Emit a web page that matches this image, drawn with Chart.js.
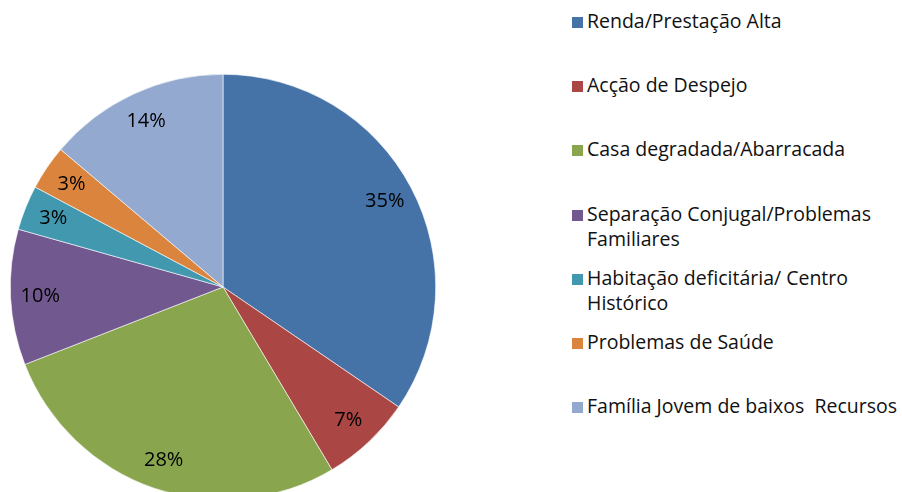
<!DOCTYPE html>
<html>
<head>
<meta charset="utf-8">
<script src="https://cdn.jsdelivr.net/npm/chart.js@4"></script>
<style>
  html, body { margin: 0; padding: 0; background: #fff; overflow: hidden; width: 902px; height: 492px; }
  #pie-box { position: absolute; left: 0; top: 0; width: 446px; height: 574px; }
  #legend { position: absolute; left: 572px; top: 0; margin: 0; padding: 0; list-style: none;
    font-family: "Open Sans", sans-serif; font-size: 19.5px; color: #111; }
  #legend li { position: absolute; left: 0; width: 340px; line-height: 25px; padding-left: 15px; white-space: nowrap; }
  #legend li span { position: absolute; left: 0; top: 9px; width: 11px; height: 11px; }
</style>
</head>
<body>
<div id="pie-box"><canvas id="pie-chart"></canvas></div>
<ul id="legend"></ul>
<script>
let categories = [
  "Renda/Prestação Alta",
  "Acção de Despejo",
  "Casa degradada/Abarracada",
  "Separação Conjugal/Problemas Familiares",
  "Habitação deficitária/ Centro Histórico",
  "Problemas de Saúde",
  "Família Jovem de baixos  Recursos",
];
let shares = [34.5, 6.9, 27.6, 10.3, 3.4, 3.4, 13.8];
let sliceColors = ["#4572A7", "#AA4643", "#89A54E", "#71588F", "#4198AF", "#DB843D", "#93A9CF"];

// legend breaks lines where Excel did
let legendLines = [
  ["Renda/Prestação Alta"],
  ["Acção de Despejo"],
  ["Casa degradada/Abarracada"],
  ["Separação Conjugal/Problemas", "Familiares"],
  ["Habitação deficitária/ Centro", "Histórico"],
  ["Problemas de Saúde"],
  ["Família Jovem de baixos\u00a0 Recursos"],
];

function buildLegend() {
  let list = document.getElementById("legend");
  categories.forEach((cat, i) => {
    let li = document.createElement("li");
    li.style.top = (8 + 64.2 * i) + "px";
    let box = document.createElement("span");
    box.style.background = sliceColors[i];
    li.appendChild(box);
    legendLines[i].forEach((line, k) => {
      if (k > 0) li.appendChild(document.createElement("br"));
      li.appendChild(document.createTextNode(line));
    });
    list.appendChild(li);
  });
}
buildLegend();

// percent labels inside the slices
const sliceLabels = {
  id: "sliceLabels",
  afterDatasetsDraw(chart) {
    let ctx = chart.ctx;
    let meta = chart.getDatasetMeta(0);
    ctx.save();
    ctx.font = "20px 'Open Sans', sans-serif";
    ctx.fillStyle = "#000";
    ctx.textAlign = "center";
    ctx.textBaseline = "middle";
    meta.data.forEach((arc, i) => {
      let p = arc.getProps(["x", "y", "startAngle", "endAngle", "outerRadius"], true);
      let mid = (p.startAngle + p.endAngle) / 2;
      let r = p.outerRadius * 0.86;
      ctx.fillText(Math.round(shares[i]) + "%", p.x + Math.cos(mid) * r, p.y + Math.sin(mid) * r);
    });
    ctx.restore();
  },
};

const ctx = document.getElementById("pie-chart").getContext("2d");
let myChart = new Chart(ctx, {
  type: "pie",
  data: {
    labels: categories,
    datasets: [{
      data: shares,
      backgroundColor: sliceColors,
      borderColor: "#ffffff",
      borderWidth: 0.6,
      hoverOffset: 0,
    }],
  },
  options: {
    responsive: true,
    maintainAspectRatio: false,
    animation: false,
    layout: { padding: 10 },
    plugins: {
      legend: { display: false },
      tooltip: { enabled: false },
    },
  },
  plugins: [sliceLabels],
});
</script>
</body>
</html>
